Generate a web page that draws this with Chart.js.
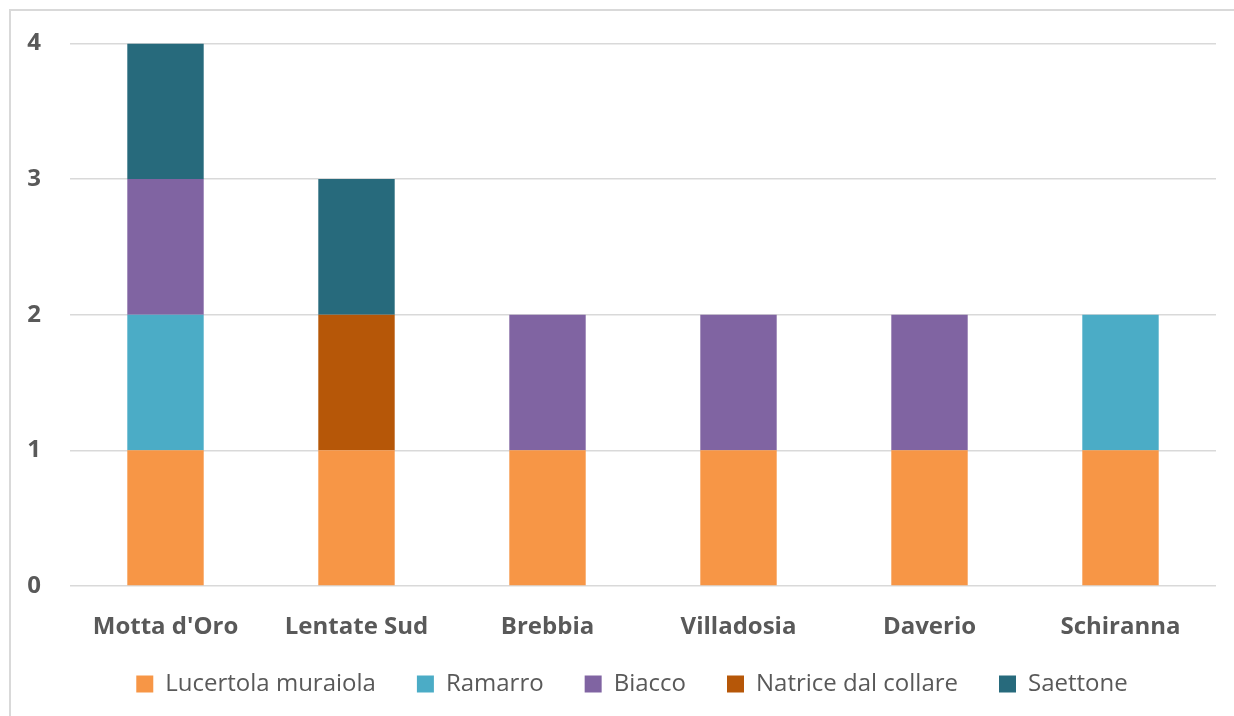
<!DOCTYPE html>
<html>
<head>
<meta charset="utf-8">
<script src="https://cdn.jsdelivr.net/npm/chart.js@4"></script>
<style>
  html, body { margin: 0; padding: 0; background: #fff; overflow: hidden; }
  #cornice { position: absolute; left: 9px; top: 9px; width: 1234px; height: 720px; border: 2px solid #d9d9d9; box-sizing: border-box; }
  #contenitore { position: absolute; left: 0; top: 0; width: 1234px; height: 716px; }
</style>
</head>
<body>
<div id="cornice"></div>
<div id="contenitore"><canvas id="grafico"></canvas></div>
<script>
// Località (categorie)
const localita = ["Motta d'Oro", "Lentate Sud", "Brebbia", "Villadosia", "Daverio", "Schiranna"];

// Specie osservate (null = assente)
const lucertolaMuraiola = [1, 1, 1, 1, 1, 1];
const ramarro = [1, null, null, null, null, 1];
const biacco = [1, null, 1, 1, 1, null];
const natriceDalCollare = [null, 1, null, null, null, null];
const saettone = [1, 1, null, null, null, null];

const tickAsseY = [0, 1, 2, 3, 4];

const grigioTesto = "#595959";
const grigioGriglia = "#d9d9d9";
const fontBase = "'Open Sans', Lato, sans-serif";

const serie = [
    { label: "Lucertola muraiola", data: lucertolaMuraiola, colore: "#f79646" },
    { label: "Ramarro", data: ramarro, colore: "#4bacc6" },
    { label: "Biacco", data: biacco, colore: "#8064a2" },
    { label: "Natrice dal collare", data: natriceDalCollare, colore: "#b65708" },
    { label: "Saettone", data: saettone, colore: "#276a7c" }
];

// il padding della legenda serve largo in orizzontale: altezza fissa e voci spostate (su e a destra)
const altezzaLegenda = {
    id: "altezzaLegenda",
    beforeInit(chart) {
        const legenda = chart.legend;
        const fitOriginale = legenda.fit;
        const drawOriginale = legenda.draw;
        legenda.fit = function () {
            fitOriginale.call(legenda);
            this.height = 60;
        };
        legenda.draw = function () {
            const { top, left, right } = this;
            this.top -= 12;
            this.left += 14;
            this.right += 14;
            drawOriginale.call(legenda);
            this.top = top;
            this.left = left;
            this.right = right;
        };
    }
};

new Chart(document.getElementById("grafico").getContext("2d"), {
    type: "bar",
    data: {
        labels: localita,
        datasets: serie.map(s => ({
            label: s.label,
            data: s.data,
            backgroundColor: s.colore,
            borderWidth: 0,
            barPercentage: 0.4,
            categoryPercentage: 1
        }))
    },
    options: {
        responsive: true,
        maintainAspectRatio: false,
        animation: false,
        layout: { padding: { left: 20, right: 18, top: 32, bottom: 13 } },
        scales: {
            x: {
                stacked: true,
                afterFit: (asse) => { asse.height = 57; },
                grid: { display: false, drawTicks: false },
                border: { display: false },
                ticks: {
                    color: grigioTesto,
                    padding: 27,
                    font: { family: fontBase, size: 24, weight: "bold" }
                }
            },
            y: {
                stacked: true,
                min: 0,
                max: 4,
                afterBuildTicks: (asse) => { asse.ticks = tickAsseY.map(v => ({ value: v })); },
                afterFit: (asse) => { asse.width = 50; },
                grid: { color: grigioGriglia, lineWidth: 1.5, drawTicks: false },
                border: { display: false },
                ticks: {
                    color: grigioTesto,
                    padding: 29,
                    font: { family: fontBase, size: 24, weight: "bold" }
                }
            }
        },
        plugins: {
            legend: {
                position: "bottom",
                labels: {
                    color: grigioTesto,
                    boxWidth: 17,
                    boxHeight: 17,
                    padding: 41,
                    font: { family: fontBase, size: 24 }
                }
            },
            tooltip: { enabled: false }
        }
    },
    plugins: [altezzaLegenda]
});
</script>
</body>
</html>
